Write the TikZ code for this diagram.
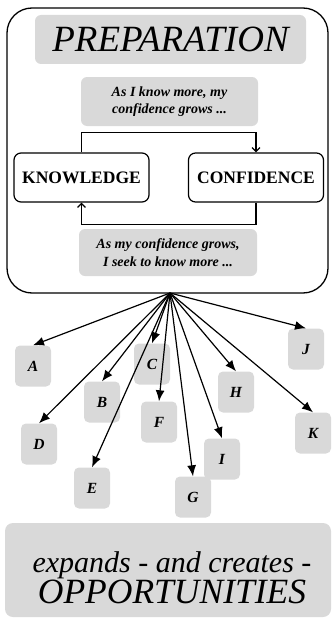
\documentclass[tikz,border=0pt]{standalone}
\usepackage{fontspec}
\setmainfont{Liberation Serif}
\usetikzlibrary{arrows.meta}
\definecolor{boxgray}{HTML}{D9D9D9}
\begin{document}
\begin{tikzpicture}[x=1pt,y=-1pt,
 gbox/.style={fill=boxgray, rounded corners=6pt, inner sep=0pt, align=center},
 lbox/.style={gbox, minimum width=36pt, minimum height=41pt, rounded corners=5pt, font=\fontsize{15.5}{17}\selectfont\bfseries\itshape},
 wbox/.style={draw, line width=1.2pt, rounded corners=7pt, fill=white, minimum width=135pt, minimum height=49pt, inner sep=0pt, font=\fontsize{17.5}{19}\selectfont\bfseries},
 arr/.style={line width=1.2pt, -{Latex[length=11pt,width=9pt]}},
 loopa/.style={line width=1.2pt, -{Straight Barb[length=4pt,width=8pt]}},
 small/.style={font=\fontsize{14}{17.5}\selectfont\bfseries\itshape}
]
\useasboundingbox (0,0) rectangle (333,618);
\node[draw, line width=1.3pt, rounded corners=25pt, minimum width=321pt, minimum height=285pt] (frame) at (167.5,150.5) {};
\node[gbox, minimum width=271pt, minimum height=49pt, font=\fontsize{37}{37}\selectfont\itshape] (prep) at (170.5,39.5) {PREPARATION};
\node[gbox, small, minimum width=177pt, minimum height=49pt] (t1) at (169.5,101.5) {As I know more, my\\confidence grows ...};
\node[wbox] (know) at (81.5,177.5) {KNOWLEDGE};
\node[wbox] (conf) at (256,177.5) {CONFIDENCE};
\node[gbox, small, minimum width=178pt, minimum height=47pt] (t2) at (168,252.5) {As my confidence grows,\\I seek to know more ...};
\draw[loopa] (know.north) -- ++(0,-20) -| (conf.north);
\draw[loopa] (conf.south) -- ++(0,22) -| (know.south);
\coordinate (hub) at (170,293);
\node[lbox] (A) at (33,366) {A};
\node[lbox] (B) at (102,402) {B};
\node[lbox] (C) at (152,364) {C};
\node[lbox] (D) at (39,444) {D};
\node[lbox] (E) at (92,488) {E};
\node[lbox] (F) at (159,422) {F};
\node[lbox] (I) at (222,459) {I};
\node[lbox] (G) at (193,497) {G};
\node[lbox] (H) at (236,392) {H};
\node[lbox] (J) at (306,349) {J};
\node[lbox] (K) at (313,433) {K};
\foreach \n in {A,B,C,D,E,F,G,H,I,J,K} \draw[arr] (hub) -- (\n.north);
\node[gbox, minimum width=326pt, minimum height=94pt, rounded corners=8pt] (opp) at (168,570) {};
\node[align=center, inner sep=0pt, font=\fontsize{30}{31}\selectfont\itshape] (opptext) at (172,578) {expands - and creates -\\{\fontsize{35.5}{35}\selectfont OPPORTUNITIES}};
\end{tikzpicture}
\end{document}
